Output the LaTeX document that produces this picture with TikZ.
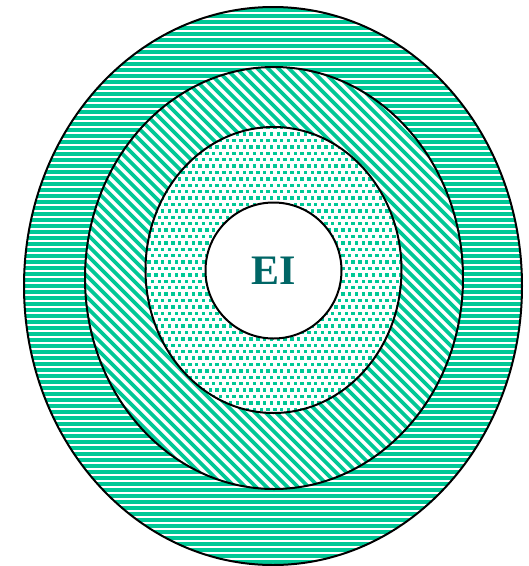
\documentclass[tikz,border=0pt]{standalone}
\usepackage{fontspec}
\setmainfont{Liberation Serif}
\usetikzlibrary{positioning}
\definecolor{ringgreen}{RGB}{0,200,150}
\definecolor{eiteal}{RGB}{0,102,102}

\begin{document}
\begin{tikzpicture}[x=1pt, y=-1pt,
  ring/.style={draw=black, line width=2pt},
  stripe/.style={ringgreen, line width=3.4pt}]
  \useasboundingbox (0,0) rectangle (529,566);
  % Outer ring: horizontal stripes
  \begin{scope}
    \clip (273,286) ellipse [x radius=249, y radius=279];
    \foreach \y in {10,16,...,570}
      \draw[stripe] (20,\y) -- (525,\y);
  \end{scope}
  % Middle ring: diagonal stripes
  \fill[white] (274,278) ellipse [x radius=189, y radius=211];
  \begin{scope}
    \clip (274,278) ellipse [x radius=189, y radius=211];
    \foreach \c in {-420,-409.5,...,410}
      \draw[stripe, line width=3.8pt] (\c+60,60) -- (\c+500,500);
  \end{scope}
  % Inner ring: dots
  \fill[white] (273.5,270) ellipse [x radius=128, y radius=143];
  \begin{scope}
    \clip (273.5,270) ellipse [x radius=128, y radius=143];
    \foreach \i in {0,...,38}
      \foreach \j in {0,...,45}
        \fill[ringgreen] ({144+6.8*\i+3.4*mod(\j,2)},{126+6.4*\j}) rectangle ++(3.4,3.4);
  \end{scope}
  % Core
  \fill[white] (273.5,270.5) circle [radius=68];
  % Outlines
  \draw[ring] (273,286) ellipse [x radius=249, y radius=279];
  \draw[ring] (274,278) ellipse [x radius=189, y radius=211];
  \draw[ring] (273.5,270) ellipse [x radius=128, y radius=143];
  \draw[ring] (273.5,270.5) circle [radius=68];
  \node[font=\bfseries\fontsize{42}{42}\selectfont, text=eiteal] (ei) at (273.5,270.5) {EI};
\end{tikzpicture}
\end{document}
